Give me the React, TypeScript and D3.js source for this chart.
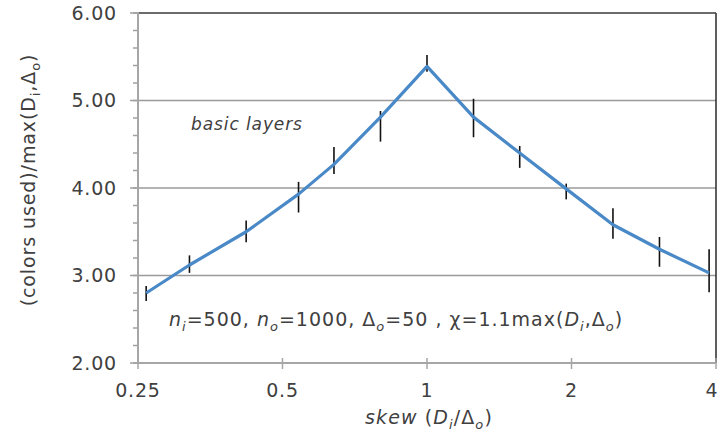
import React from "react";
import * as d3 from "d3";

const skews = [0.26, 0.32, 0.42, 0.54, 0.64, 0.8, 1, 1.25, 1.56, 1.95, 2.44, 3.05, 3.87];
const values = [2.8, 3.12, 3.5, 3.93, 4.27, 4.81, 5.39, 4.81, 4.4, 3.99, 3.58, 3.3, 3.03];
const errLow = [2.71, 3.03, 3.38, 3.72, 4.16, 4.53, 5.33, 4.58, 4.23, 3.87, 3.42, 3.1, 2.81];
const errHigh = [2.88, 3.23, 3.63, 4.07, 4.47, 4.88, 5.52, 5.02, 4.48, 4.05, 3.77, 3.44, 3.3];
const xTicks = [0.25, 0.5, 1, 2, 4];
const xTickLabels = ["0.25", "0.5", "1", "2", "4"];
const yTicks = [2, 3, 4, 5, 6];
const yMinor = d3.range(2, 6.001, 0.2);

const W = 720, H = 435;
const L = 138, R = 716, T = 13, B = 363;
const FONT = "'DejaVu Sans', Verdana, sans-serif";
const TXT = "#404040";

export default function App() {
  const x = d3.scaleLog().base(2).domain([0.25, 4]).range([L, R]);
  const y = d3.scaleLinear().domain([2, 6]).range([B, T]);
  const line = d3.line<number>().x((_, i) => x(skews[i])).y((d) => y(d));
  const fs = 19;
  const sub = 13;
  return (
    <svg width={W} height={H} style={{ position: "absolute", left: 0, top: 0, background: "#fff" }} fontFamily={FONT}>
      {yTicks.filter((t) => t > 2 && t < 6).map((t) => (
        <line key={t} x1={L} x2={R} y1={y(t)} y2={y(t)} stroke="#9a9a9a" strokeWidth={1.5} />
      ))}
      <line x1={L} x2={R} y1={y(6)} y2={y(6)} stroke="#3a3a3a" strokeWidth={1.5} />
      <line x1={R} x2={R} y1={T} y2={B} stroke="#2a2a2a" strokeWidth={1.5} />
      {yMinor.map((t, i) => (
        <line key={"m" + i} x1={L - 5} x2={L} y1={y(t)} y2={y(t)} stroke="#a0a0a0" strokeWidth={1.5} />
      ))}
      {yTicks.map((t) => (
        <line key={"M" + t} x1={L - 8} x2={L} y1={y(t)} y2={y(t)} stroke="#a0a0a0" strokeWidth={1.5} />
      ))}
      <line x1={L} x2={L} y1={T - 1} y2={B + 1} stroke="#a6a6a6" strokeWidth={2} />
      <line x1={L} x2={R} y1={B} y2={B} stroke="#a6a6a6" strokeWidth={2} />
      {xTicks.map((t) => (
        <line key={"x" + t} x1={x(t)} x2={x(t)} y1={B - 5} y2={B + 6} stroke="#a6a6a6" strokeWidth={1.5} />
      ))}
      {yTicks.map((t) => (
        <text key={"yl" + t} x={117} y={y(t)} dy="0.36em" textAnchor="end" fontSize={fs} fill={TXT} letterSpacing={0.8}>
          {t.toFixed(2)}
        </text>
      ))}
      {xTicks.map((t, i) => (
        <text key={"xl" + t} x={Math.min(x(t), W - 8)} y={397} textAnchor="middle" fontSize={fs} fill={TXT} letterSpacing={0.8}>
          {xTickLabels[i]}
        </text>
      ))}
      {skews.map((s, i) => (
        <line key={"e" + i} x1={x(s)} x2={x(s)} y1={y(errLow[i])} y2={y(errHigh[i])} stroke="#111" strokeWidth={1.6} />
      ))}
      <path d={line(values) || ""} fill="none" stroke="#4a89c7" strokeWidth={3.2} strokeLinejoin="round" />
      <text x={191} y={130} fontSize={17} fontStyle="italic" fill={TXT} letterSpacing={0.9}>basic layers</text>
      <text x={169} y={326} fontSize={19} fill={TXT} letterSpacing={1.0}>
        <tspan fontStyle="italic">n</tspan>
        <tspan fontStyle="italic" fontSize={sub} dy={5}>i</tspan>
        <tspan dy={-5}>=500, </tspan>
        <tspan fontStyle="italic">n</tspan>
        <tspan fontStyle="italic" fontSize={sub} dy={5}>o</tspan>
        <tspan dy={-5}>=1000, Δ</tspan>
        <tspan fontStyle="italic" fontSize={sub} dy={5}>o</tspan>
        <tspan dy={-5}>=50 , χ=1.1max(</tspan>
        <tspan fontStyle="italic">D</tspan>
        <tspan fontStyle="italic" fontSize={sub} dy={5}>i</tspan>
        <tspan dy={-5}>,Δ</tspan>
        <tspan fontStyle="italic" fontSize={sub} dy={5}>o</tspan>
        <tspan dy={-5}>)</tspan>
      </text>
      <text x={(L + R) / 2 + 2} y={424} textAnchor="middle" fontSize={fs} fill={TXT} letterSpacing={1.1}>
        <tspan fontStyle="italic">skew</tspan>
        <tspan> (</tspan>
        <tspan fontStyle="italic">D</tspan>
        <tspan fontStyle="italic" fontSize={sub} dy={5}>i</tspan>
        <tspan dy={-5}>/Δ</tspan>
        <tspan fontStyle="italic" fontSize={sub} dy={5}>o</tspan>
        <tspan dy={-5}>)</tspan>
      </text>
      <text transform={`translate(35,${(T + B) / 2 - 8}) rotate(-90)`} textAnchor="middle" fontSize={fs} fill={TXT} letterSpacing={0.9}>
        <tspan>(colors used)/max(D</tspan>
        <tspan fontSize={sub} dy={5}>i</tspan>
        <tspan dy={-5}>,Δ</tspan>
        <tspan fontSize={sub} dy={5}>o</tspan>
        <tspan dy={-5}>)</tspan>
      </text>
    </svg>
  );
}
